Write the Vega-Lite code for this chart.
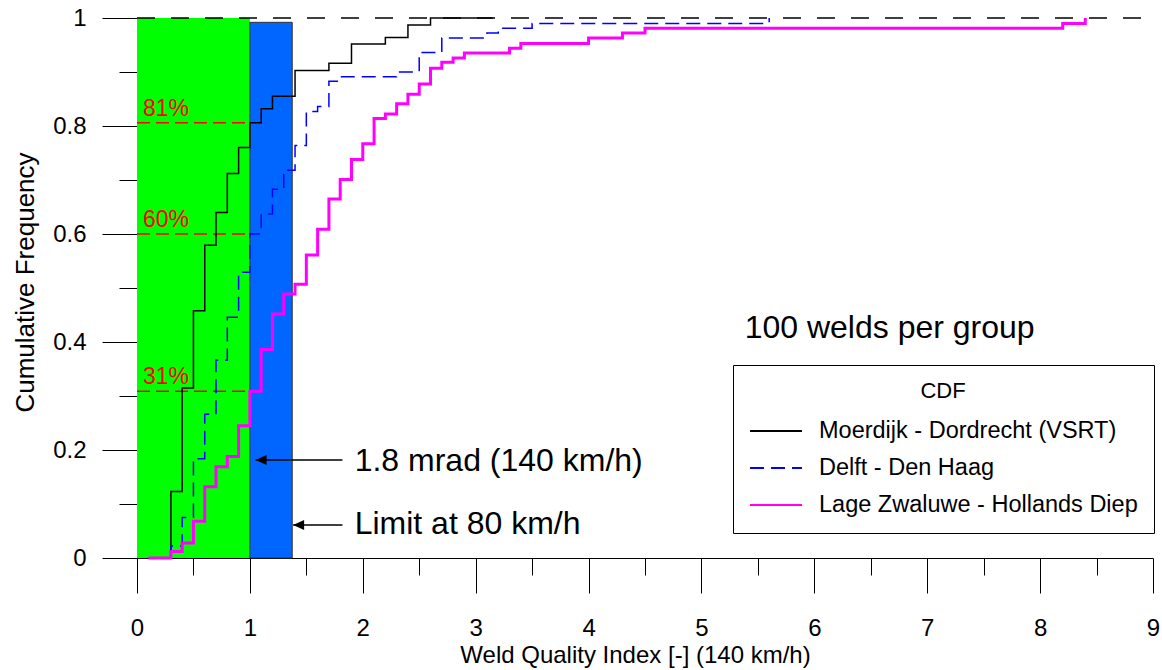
{
  "$schema": "https://vega.github.io/schema/vega-lite/v6.json",
  "width": 1016,
  "height": 540,
  "autosize": {"type": "none"},
  "padding": {"left": 137, "top": 18, "right": 9, "bottom": 112},
  "background": "white",
  "config": {
    "font": "Liberation Sans",
    "view": {"stroke": null},
    "axis": {
      "grid": false,
      "domainColor": "black",
      "domainWidth": 1,
      "tickColor": "black",
      "tickWidth": 1,
      "labelColor": "black",
      "titleColor": "black",
      "labelFont": "Liberation Sans",
      "titleFont": "Liberation Sans",
      "titleFontWeight": "normal",
      "labelFlush": false,
      "labelOverlap": false
    }
  },
  "resolve": {"axis": {"x": "independent", "y": "independent"}},
  "datasets": {
    "cdf": [
      {"s": "Moerdijk - Dordrecht (VSRT)", "i": 0, "x": 0.30, "y": 0},
      {"s": "Moerdijk - Dordrecht (VSRT)", "i": 1, "x": 0.30, "y": 0.123},
      {"s": "Moerdijk - Dordrecht (VSRT)", "i": 2, "x": 0.40, "y": 0.315},
      {"s": "Moerdijk - Dordrecht (VSRT)", "i": 3, "x": 0.50, "y": 0.458},
      {"s": "Moerdijk - Dordrecht (VSRT)", "i": 4, "x": 0.60, "y": 0.579},
      {"s": "Moerdijk - Dordrecht (VSRT)", "i": 5, "x": 0.70, "y": 0.640},
      {"s": "Moerdijk - Dordrecht (VSRT)", "i": 6, "x": 0.80, "y": 0.712},
      {"s": "Moerdijk - Dordrecht (VSRT)", "i": 7, "x": 0.90, "y": 0.760},
      {"s": "Moerdijk - Dordrecht (VSRT)", "i": 8, "x": 1.00, "y": 0.806},
      {"s": "Moerdijk - Dordrecht (VSRT)", "i": 9, "x": 1.10, "y": 0.832},
      {"s": "Moerdijk - Dordrecht (VSRT)", "i": 10, "x": 1.20, "y": 0.855},
      {"s": "Moerdijk - Dordrecht (VSRT)", "i": 11, "x": 1.40, "y": 0.903},
      {"s": "Moerdijk - Dordrecht (VSRT)", "i": 12, "x": 1.70, "y": 0.916},
      {"s": "Moerdijk - Dordrecht (VSRT)", "i": 13, "x": 1.90, "y": 0.952},
      {"s": "Moerdijk - Dordrecht (VSRT)", "i": 14, "x": 2.20, "y": 0.964},
      {"s": "Moerdijk - Dordrecht (VSRT)", "i": 15, "x": 2.40, "y": 0.987},
      {"s": "Moerdijk - Dordrecht (VSRT)", "i": 16, "x": 2.60, "y": 1.0},
      {"s": "Moerdijk - Dordrecht (VSRT)", "i": 17, "x": 3.15, "y": 1.0},
      {"s": "Delft - Den Haag", "i": 0, "x": 0.30, "y": 0},
      {"s": "Delft - Den Haag", "i": 1, "x": 0.30, "y": 0.022},
      {"s": "Delft - Den Haag", "i": 2, "x": 0.40, "y": 0.075},
      {"s": "Delft - Den Haag", "i": 3, "x": 0.50, "y": 0.184},
      {"s": "Delft - Den Haag", "i": 4, "x": 0.60, "y": 0.266},
      {"s": "Delft - Den Haag", "i": 5, "x": 0.70, "y": 0.366},
      {"s": "Delft - Den Haag", "i": 6, "x": 0.80, "y": 0.446},
      {"s": "Delft - Den Haag", "i": 7, "x": 0.90, "y": 0.529},
      {"s": "Delft - Den Haag", "i": 8, "x": 1.00, "y": 0.600},
      {"s": "Delft - Den Haag", "i": 9, "x": 1.10, "y": 0.637},
      {"s": "Delft - Den Haag", "i": 10, "x": 1.20, "y": 0.683},
      {"s": "Delft - Den Haag", "i": 11, "x": 1.30, "y": 0.718},
      {"s": "Delft - Den Haag", "i": 12, "x": 1.40, "y": 0.764},
      {"s": "Delft - Den Haag", "i": 13, "x": 1.50, "y": 0.827},
      {"s": "Delft - Den Haag", "i": 14, "x": 1.60, "y": 0.836},
      {"s": "Delft - Den Haag", "i": 15, "x": 1.70, "y": 0.883},
      {"s": "Delft - Den Haag", "i": 16, "x": 1.80, "y": 0.891},
      {"s": "Delft - Den Haag", "i": 17, "x": 2.30, "y": 0.900},
      {"s": "Delft - Den Haag", "i": 18, "x": 2.50, "y": 0.936},
      {"s": "Delft - Den Haag", "i": 19, "x": 2.70, "y": 0.963},
      {"s": "Delft - Den Haag", "i": 20, "x": 3.10, "y": 0.972},
      {"s": "Delft - Den Haag", "i": 21, "x": 3.20, "y": 0.981},
      {"s": "Delft - Den Haag", "i": 22, "x": 3.50, "y": 0.990},
      {"s": "Delft - Den Haag", "i": 23, "x": 5.60, "y": 1.0},
      {"s": "Lage Zwaluwe - Hollands Diep", "i": 0, "x": 0.10, "y": 0},
      {"s": "Lage Zwaluwe - Hollands Diep", "i": 1, "x": 0.30, "y": 0.012},
      {"s": "Lage Zwaluwe - Hollands Diep", "i": 2, "x": 0.40, "y": 0.028},
      {"s": "Lage Zwaluwe - Hollands Diep", "i": 3, "x": 0.50, "y": 0.068},
      {"s": "Lage Zwaluwe - Hollands Diep", "i": 4, "x": 0.60, "y": 0.132},
      {"s": "Lage Zwaluwe - Hollands Diep", "i": 5, "x": 0.70, "y": 0.169},
      {"s": "Lage Zwaluwe - Hollands Diep", "i": 6, "x": 0.80, "y": 0.188},
      {"s": "Lage Zwaluwe - Hollands Diep", "i": 7, "x": 0.90, "y": 0.245},
      {"s": "Lage Zwaluwe - Hollands Diep", "i": 8, "x": 1.00, "y": 0.309},
      {"s": "Lage Zwaluwe - Hollands Diep", "i": 9, "x": 1.10, "y": 0.386},
      {"s": "Lage Zwaluwe - Hollands Diep", "i": 10, "x": 1.20, "y": 0.452},
      {"s": "Lage Zwaluwe - Hollands Diep", "i": 11, "x": 1.30, "y": 0.489},
      {"s": "Lage Zwaluwe - Hollands Diep", "i": 12, "x": 1.40, "y": 0.507},
      {"s": "Lage Zwaluwe - Hollands Diep", "i": 13, "x": 1.50, "y": 0.561},
      {"s": "Lage Zwaluwe - Hollands Diep", "i": 14, "x": 1.60, "y": 0.609},
      {"s": "Lage Zwaluwe - Hollands Diep", "i": 15, "x": 1.70, "y": 0.665},
      {"s": "Lage Zwaluwe - Hollands Diep", "i": 16, "x": 1.80, "y": 0.701},
      {"s": "Lage Zwaluwe - Hollands Diep", "i": 17, "x": 1.90, "y": 0.738},
      {"s": "Lage Zwaluwe - Hollands Diep", "i": 18, "x": 2.00, "y": 0.767},
      {"s": "Lage Zwaluwe - Hollands Diep", "i": 19, "x": 2.10, "y": 0.814},
      {"s": "Lage Zwaluwe - Hollands Diep", "i": 20, "x": 2.20, "y": 0.822},
      {"s": "Lage Zwaluwe - Hollands Diep", "i": 21, "x": 2.30, "y": 0.841},
      {"s": "Lage Zwaluwe - Hollands Diep", "i": 22, "x": 2.40, "y": 0.859},
      {"s": "Lage Zwaluwe - Hollands Diep", "i": 23, "x": 2.50, "y": 0.878},
      {"s": "Lage Zwaluwe - Hollands Diep", "i": 24, "x": 2.60, "y": 0.907},
      {"s": "Lage Zwaluwe - Hollands Diep", "i": 25, "x": 2.70, "y": 0.918},
      {"s": "Lage Zwaluwe - Hollands Diep", "i": 26, "x": 2.80, "y": 0.926},
      {"s": "Lage Zwaluwe - Hollands Diep", "i": 27, "x": 2.90, "y": 0.935},
      {"s": "Lage Zwaluwe - Hollands Diep", "i": 28, "x": 3.30, "y": 0.944},
      {"s": "Lage Zwaluwe - Hollands Diep", "i": 29, "x": 3.40, "y": 0.953},
      {"s": "Lage Zwaluwe - Hollands Diep", "i": 30, "x": 4.00, "y": 0.963},
      {"s": "Lage Zwaluwe - Hollands Diep", "i": 31, "x": 4.30, "y": 0.972},
      {"s": "Lage Zwaluwe - Hollands Diep", "i": 32, "x": 4.50, "y": 0.981},
      {"s": "Lage Zwaluwe - Hollands Diep", "i": 33, "x": 8.20, "y": 0.990},
      {"s": "Lage Zwaluwe - Hollands Diep", "i": 34, "x": 8.40, "y": 1.0}
    ],
    "pct": [
      {"y": 0.806, "label": "81%"},
      {"y": 0.600, "label": "60%"},
      {"y": 0.309, "label": "31%"}
    ],
    "arrows": [
      {"x": 1.05, "x2": 1.82, "y": 0.1815},
      {"x": 1.383, "x2": 1.82, "y": 0.0611}
    ],
    "notes": [
      {"x": 1.928, "y": 0.1617, "t": "1.8 mrad (140 km/h)"},
      {"x": 1.928, "y": 0.0439, "t": "Limit at 80 km/h"},
      {"x": 5.383, "y": 0.4068, "t": "100 welds per group"}
    ]
  },
  "layer": [
    {
      "data": {"values": [{"x0": 0, "x1": 1, "y0": 0, "y1": 1}]},
      "mark": {"type": "rect", "color": "#00ff00"},
      "encoding": {
        "x": {
          "field": "x0", "type": "quantitative",
          "scale": {"domain": [0, 9], "nice": false, "zero": false},
          "axis": {
            "orient": "bottom",
            "title": "Weld Quality Index [-] (140 km/h)",
            "values": [0, 1, 2, 3, 4, 5, 6, 7, 8, 9],
            "format": "d",
            "tickSize": 35,
            "labelPadding": 23,
            "labelFontSize": 24,
            "titleFontSize": 24,
            "titlePadding": 3,
            "titleX": 498
          }
        },
        "x2": {"field": "x1"},
        "y": {
          "field": "y0", "type": "quantitative",
          "scale": {"domain": [0, 1], "nice": false, "zero": false},
          "axis": {
            "orient": "left",
            "title": "Cumulative Frequency",
            "values": [0, 0.2, 0.4, 0.6, 0.8, 1],
            "format": "~g",
            "tickSize": 35,
            "labelPadding": 16,
            "labelFontSize": 24,
            "titleFontSize": 26,
            "titlePadding": 14,
            "titleY": 264
          }
        },
        "y2": {"field": "y1"}
      }
    },
    {
      "data": {"values": [{"x0": 1, "x1": 1.375, "y0": 0, "y1": 0.992}]},
      "mark": {"type": "rect", "color": "#0066ff", "stroke": "#333333", "strokeWidth": 1},
      "encoding": {
        "x": {
          "field": "x0", "type": "quantitative",
          "axis": {"orient": "bottom", "title": null, "values": [0.5, 1.5, 2.5, 3.5, 4.5, 5.5, 6.5, 7.5, 8.5], "tickSize": 17, "labels": false, "domain": false}
        },
        "x2": {"field": "x1"},
        "y": {
          "field": "y0", "type": "quantitative",
          "axis": {"orient": "left", "title": null, "values": [0.1, 0.3, 0.5, 0.7, 0.9], "tickSize": 18, "labels": false, "domain": false}
        },
        "y2": {"field": "y1"}
      }
    },
    {
      "data": {"values": [{}]},
      "mark": {"type": "rule", "color": "black", "strokeDash": [18, 16], "strokeWidth": 1.5},
      "encoding": {
        "x": {"datum": 0, "type": "quantitative", "axis": null},
        "x2": {"datum": 9},
        "y": {"datum": 1, "type": "quantitative", "axis": null}
      }
    },
    {
      "data": {"name": "pct"},
      "mark": {"type": "rule", "color": "#ff0000", "strokeDash": [13, 6], "strokeWidth": 1.5},
      "encoding": {
        "x": {"datum": 0, "type": "quantitative", "axis": null},
        "x2": {"datum": 1},
        "y": {"field": "y", "type": "quantitative", "axis": null}
      }
    },
    {
      "data": {"name": "pct"},
      "mark": {"type": "text", "color": "#ff0000", "fontSize": 23, "align": "left", "baseline": "alphabetic", "dx": 6, "dy": -7},
      "encoding": {
        "x": {"datum": 0, "type": "quantitative", "axis": null},
        "y": {"field": "y", "type": "quantitative", "axis": null},
        "text": {"field": "label"}
      }
    },
    {
      "data": {"name": "cdf"},
      "mark": {"type": "line", "interpolate": "step-after"},
      "encoding": {
        "x": {"field": "x", "type": "quantitative", "axis": null},
        "y": {"field": "y", "type": "quantitative", "axis": null},
        "order": {"field": "i", "type": "quantitative"},
        "color": {
          "field": "s", "type": "nominal",
          "scale": {
            "domain": ["Moerdijk - Dordrecht (VSRT)", "Delft - Den Haag", "Lage Zwaluwe - Hollands Diep"],
            "range": ["#000000", "#0000ff", "#ff00ff"]
          },
          "legend": {
            "title": "CDF", "orient": "none", "legendX": 596, "legendY": 347,
            "strokeColor": "black", "fillColor": "white", "padding": 16,
            "titleAnchor": "middle", "titleFontSize": 22, "titleFontWeight": "normal", "titleColor": "black",
            "titlePadding": 14,
            "labelFontSize": 23.5, "labelColor": "black", "labelOffset": 42, "labelLimit": 500,
            "symbolType": "M-1,0H3", "symbolSize": 676, "symbolStrokeWidth": 2, "symbolOffset": 0,
            "rowPadding": 11
          }
        },
        "strokeDash": {
          "field": "s", "type": "nominal",
          "scale": {
            "domain": ["Moerdijk - Dordrecht (VSRT)", "Delft - Den Haag", "Lage Zwaluwe - Hollands Diep"],
            "range": [[1, 0], [14, 7], [1, 0]]
          },
          "legend": {
            "title": "CDF", "orient": "none", "legendX": 596, "legendY": 347,
            "strokeColor": "black", "fillColor": "white", "padding": 16,
            "titleAnchor": "middle", "titleFontSize": 22, "titleFontWeight": "normal", "titleColor": "black",
            "titlePadding": 14,
            "labelFontSize": 23.5, "labelColor": "black", "labelOffset": 42, "labelLimit": 500,
            "symbolType": "M-1,0H3", "symbolSize": 676, "symbolStrokeWidth": 2, "symbolOffset": 0,
            "rowPadding": 11
          }
        },
        "strokeWidth": {"condition": {"test": "datum.s === 'Lage Zwaluwe - Hollands Diep'", "value": 3}, "value": 1.5}
      }
    },
    {
      "data": {"name": "arrows"},
      "mark": {"type": "rule", "color": "black", "strokeWidth": 1.5},
      "encoding": {
        "x": {"field": "x", "type": "quantitative", "axis": null},
        "x2": {"field": "x2"},
        "y": {"field": "y", "type": "quantitative", "axis": null}
      }
    },
    {
      "data": {"name": "arrows"},
      "mark": {"type": "point", "shape": "M0,0L1,-0.45L1,0.45Z", "size": 484, "filled": true, "color": "black", "opacity": 1},
      "encoding": {
        "x": {"field": "x", "type": "quantitative", "axis": null},
        "y": {"field": "y", "type": "quantitative", "axis": null}
      }
    },
    {
      "data": {"name": "notes"},
      "mark": {"type": "text", "color": "black", "fontSize": 32, "align": "left", "baseline": "alphabetic"},
      "encoding": {
        "x": {"field": "x", "type": "quantitative", "axis": null},
        "y": {"field": "y", "type": "quantitative", "axis": null},
        "text": {"field": "t"}
      }
    }
  ]
}
